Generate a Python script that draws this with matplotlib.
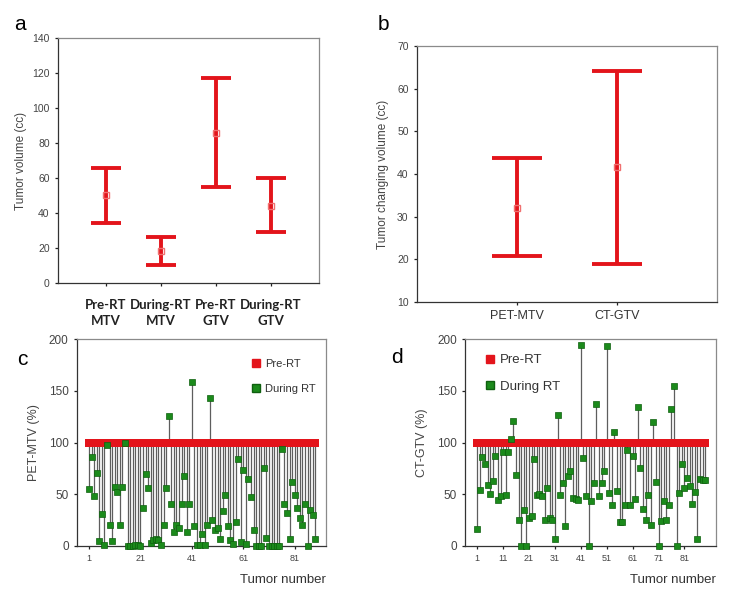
# -*- coding: utf-8 -*-
import numpy as np
import matplotlib.pyplot as plt
from matplotlib.lines import Line2D

plt.rcParams['font.family'] = ['Liberation Sans', 'DejaVu Sans']

# Panel a: tumor volume (cc), mean with upper / lower bound
cat_a = ["Pre-RT\nMTV", "During-RT\nMTV", "Pre-RT\nGTV", "During-RT\nGTV"]
mean_a = [50, 18, 86, 44]
upper_a = [66, 26, 117, 60]
lower_a = [34, 10, 55, 29]

# Panel b: tumor changing volume (cc)
cat_b = ["PET-MTV", "CT-GTV"]
mean_b = [32, 41.7]
upper_b = [43.8, 64.2]
lower_b = [20.8, 19.0]

# Panel c: PET-MTV (%) during RT per tumor (pre-RT = 100)
mtv_during = [55, 86, 48, 71, 5, 31, 1, 98, 20, 5,
              57, 52, 20, 57, 100, 0, 0, 0, 1, 1,
              0, 37, 70, 56, 3, 6, 7, 6, 1, 20,
              56, 126, 41, 14, 20, 17, 41, 68, 14, 41,
              158, 19, 1, 1, 12, 1, 20, 143, 25, 15,
              17, 7, 34, 49, 19, 6, 2, 23, 84, 4,
              73, 2, 65, 47, 15, 0, 0, 0, 75, 8,
              0, 0, 0, 0, 0, 94, 41, 32, 7, 62,
              49, 37, 27, 20, 41, 0, 35, 30, 7]

# Panel d: CT-GTV (%) during RT per tumor (pre-RT = 100)
gtv_during = [16, 54, 86, 79, 59, 50, 63, 87, 44, 48,
              91, 49, 91, 103, 121, 69, 25, 0, 35, 0,
              27, 29, 84, 49, 50, 48, 25, 56, 27, 25,
              7, 127, 49, 61, 19, 68, 72, 46, 45, 44,
              194, 85, 48, 0, 43, 61, 137, 48, 61, 72,
              193, 51, 40, 110, 53, 23, 23, 40, 93, 40,
              87, 45, 134, 75, 36, 25, 49, 20, 120, 62,
              0, 24, 43, 25, 40, 132, 155, 0, 51, 79,
              56, 66, 58, 41, 52, 7, 65, 64, 64]

rojo = "#e3141b"
verde = "#1b8a1b"
gris = "#444444"

fig = plt.figure(figsize=(7.29, 5.96), dpi=100)


def estilo_caja(ax):
    for lado in ["top", "right"]:
        ax.spines[lado].set_color("#8a8a8a")
    for lado in ["left", "bottom"]:
        ax.spines[lado].set_color("#333333")
    for s in ax.spines.values():
        s.set_linewidth(0.9)
    ax.tick_params(axis="both", length=2.5, width=0.9, colors="#222222", labelcolor=gris, labelsize=7.5)


def barras_error(ax, media, sup, inf, cap):
    x = np.arange(1, len(media) + 1)
    media = np.array(media)
    err = [media - np.array(inf), np.array(sup) - media]
    ax.errorbar(x, media, yerr=err, fmt="none", ecolor=rojo, elinewidth=2.8,
                capsize=cap, capthick=2.8)
    ax.plot(x, media, "s", mfc="none", mec="#f07070", ms=5, mew=1)
    return x


# ---- a ----
ax_a = fig.add_axes([0.0796, 0.5252, 0.358, 0.411])
x_a = barras_error(ax_a, mean_a, upper_a, lower_a, 10.5)
ax_a.set_xlim(0.13, 4.87)
ax_a.set_ylim(0, 140)
ax_a.set_yticks(np.arange(0, 141, 20))
ax_a.set_xticks(x_a)
ax_a.set_xticklabels(cat_a, fontweight="bold", family=["Lato", "DejaVu Sans"], linespacing=1.45)
estilo_caja(ax_a)
ax_a.tick_params(axis="x", pad=9, labelcolor="#222222", labelsize=9.5)
ax_a.set_ylabel("Tumor volume (cc)", fontsize=8.5, color=gris, labelpad=4)
fig.text(0.027, 0.975, "a", fontsize=15, va="top", ha="center")

# ---- b ----
ax_b = fig.add_axes([0.572, 0.4933, 0.4115, 0.4295])
x_b = barras_error(ax_b, mean_b, upper_b, lower_b, 18)
ax_b.set_xlim(0, 3)
ax_b.set_ylim(10, 70)
ax_b.set_yticks(np.arange(10, 71, 10))
ax_b.set_xticks(x_b)
ax_b.set_xticklabels(cat_b)
estilo_caja(ax_b)
ax_b.tick_params(axis="x", labelsize=9, labelcolor="#333333", pad=3)
ax_b.set_ylabel("Tumor changing volume (cc)", fontsize=8.5, color=gris, labelpad=6)
fig.text(0.526, 0.975, "b", fontsize=15, va="top", ha="center")


# ---- c y d ----
def panel_tumores(ax, valores, ticks):
    n = np.arange(1, len(valores) + 1)
    ax.vlines(n, valores, 100, color="#5e5e5e", linewidth=0.9, zorder=1)
    ax.plot(n, np.full(len(n), 100), "s", color=rojo, ms=5.8, mew=0, zorder=2)
    ax.plot(n, valores, "s", mfc=verde, mec="#0f5f0f", ms=5, mew=0.5, zorder=3, clip_on=False)
    ax.set_xlim(-3.7, 93.2)
    ax.set_ylim(0, 200)
    ax.set_yticks([0, 50, 100, 150, 200])
    ax.set_xticks(ticks)
    estilo_caja(ax)
    ax.tick_params(axis="y", labelsize=8.5)
    ax.tick_params(axis="x", labelsize=6.5)
    marcas = [Line2D([], [], ls="none", marker="s", color=rojo, ms=6),
              Line2D([], [], ls="none", marker="s", mfc=verde, mec="#0f5f0f", ms=6)]
    return marcas


ax_c = fig.add_axes([0.1056, 0.0839, 0.3416, 0.3473])
h = panel_tumores(ax_c, mtv_during, [1, 21, 41, 61, 81])
ax_c.set_ylabel("PET-MTV (%)", fontsize=9, color=gris, labelpad=6)
ax_c.legend(h, ["Pre-RT", "During RT"], loc="upper left", bbox_to_anchor=(0.66, 0.95),
            frameon=False, fontsize=8, labelspacing=1.3, handlelength=0.8,
            handletextpad=0.4, labelcolor="#333333")
ax_c.text(1.0, -0.135, "Tumor number", transform=ax_c.transAxes, ha="right", va="top",
          fontsize=9.5, color="#333333")
fig.text(0.03, 0.396, "c", fontsize=15, va="center", ha="center")

ax_d = fig.add_axes([0.6379, 0.0839, 0.3443, 0.3473])
h = panel_tumores(ax_d, gtv_during, [1, 11, 21, 31, 41, 51, 61, 71, 81])
ax_d.set_ylabel("CT-GTV (%)", fontsize=9, color=gris, labelpad=6)
ax_d.legend(h, ["Pre-RT", "During RT"], loc="upper left", bbox_to_anchor=(0.03, 0.985),
            frameon=False, fontsize=9.5, labelspacing=1.1, handlelength=0.8,
            handletextpad=0.4, labelcolor="#333333")
ax_d.text(1.0, -0.135, "Tumor number", transform=ax_d.transAxes, ha="right", va="top",
          fontsize=9.5, color="#333333")
fig.text(0.545, 0.40, "d", fontsize=15, va="center", ha="center")

fig.savefig("out.png", dpi=100)
